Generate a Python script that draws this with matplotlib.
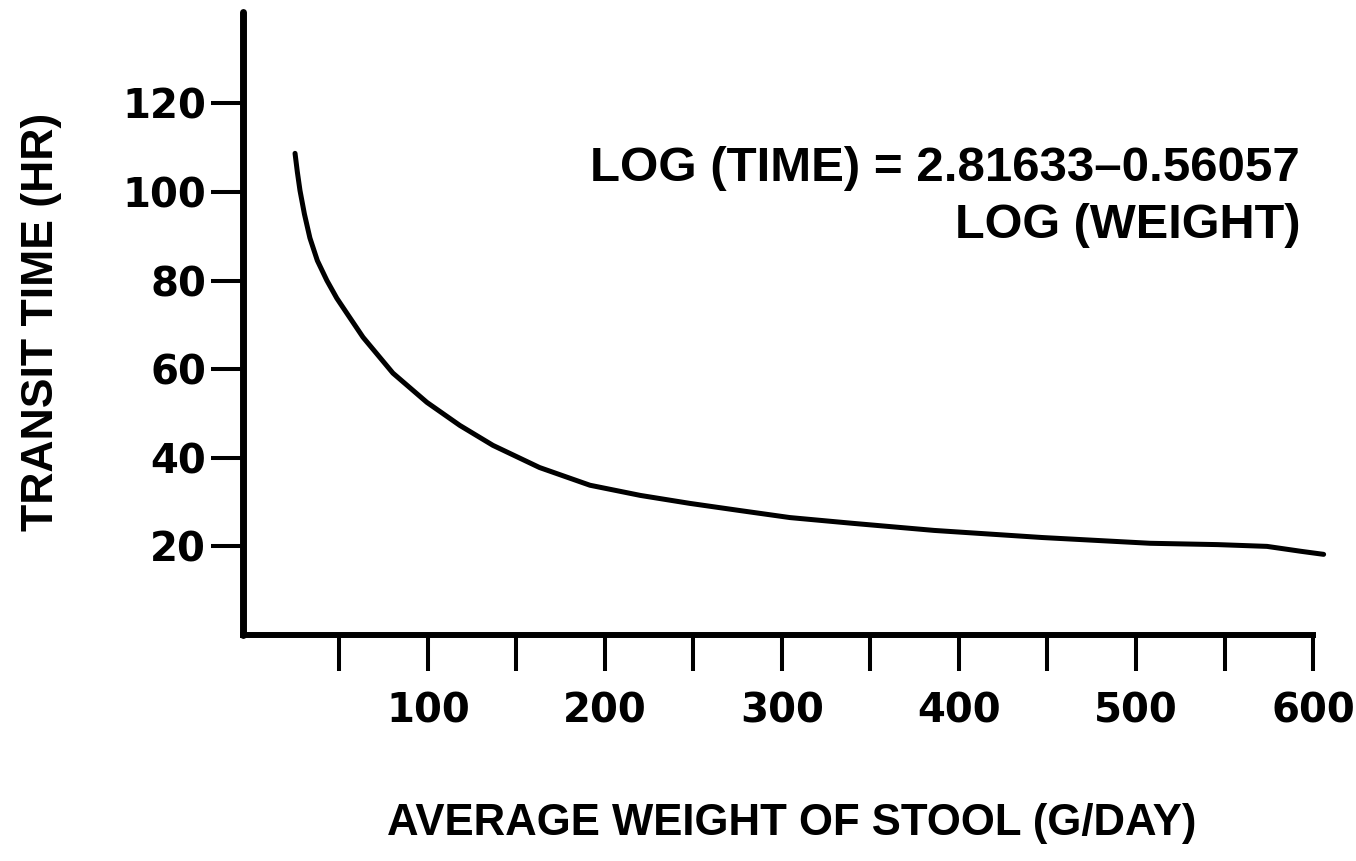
import matplotlib
matplotlib.use("Agg")
import matplotlib.pyplot as plt
import numpy as np

# values
weight = [24.9, 26.2, 27.7, 30.2, 33.3, 37.5, 42.9, 48.5, 54.2, 63.3, 80.2, 99.4, 118,
          136.7, 163, 191.5, 220, 248, 276, 304.5, 340, 386, 447, 508, 546, 574, 593, 606]
transit = [108.7, 104.5, 100.3, 95.0, 89.6, 84.5, 80.0, 76.0, 72.6, 67.2, 59.1, 52.5, 47.3,
           42.8, 37.8, 33.8, 31.5, 29.7, 28.1, 26.5, 25.2, 23.6, 22.0, 20.7, 20.4, 20.0, 18.9, 18.2]

x_major = [100, 200, 300, 400, 500, 600]
x_minor = [50, 150, 250, 350, 450, 550]
y_ticks = [20, 40, 60, 80, 100, 120]

eq_line1 = "LOG (TIME) = 2.81633\u20130.56057"
eq_line2 = "LOG (WEIGHT)"
x_label = "AVERAGE WEIGHT OF STOOL (G/DAY)"
y_label = "TRANSIT TIME (HR)"

fig = plt.figure(figsize=(13.56, 8.61), dpi=100)
ax = fig.add_axes([243 / 1356, 1 - 635 / 861, 1087 / 1356, 623 / 861])

ax.plot(weight, transit, color="black", lw=3.6, solid_capstyle="round",
        solid_joinstyle="round", clip_on=False)

ax.set_xlim(-4.5, 609.6)
ax.set_ylim(0, 140.6)

for s in ["top", "right"]:
    ax.spines[s].set_visible(False)
ax.spines["left"].set_linewidth(5)
ax.spines["bottom"].set_linewidth(4.3)
ax.spines["bottom"].set_bounds(-4.5, 600)
ax.spines["left"].set_capstyle("round")

ax.set_xticks(x_major)
ax.set_xticks(x_minor, minor=True)
ax.set_xticklabels([str(v) for v in x_major])
ax.set_yticks(y_ticks)
ax.set_yticklabels([str(v) for v in y_ticks])

ax.tick_params(axis="x", which="both", direction="out", length=26, width=2.9, pad=15)
ax.tick_params(axis="y", direction="out", length=23, width=2.9, pad=3.5)
for lab in ax.get_xticklabels() + ax.get_yticklabels():
    lab.set_fontfamily("DejaVu Sans")
    lab.set_fontweight("bold")
    lab.set_fontsize(29)

txt = dict(family=["Liberation Sans", "DejaVu Sans"], weight="bold", color="black")
ax.text(592.7, 102.4, eq_line1, ha="right", va="baseline", fontsize=35.5, **txt)
ax.text(592.7, 89.5, eq_line2, ha="right", va="baseline", fontsize=35, **txt)

fig.text(792 / 1356, 1 - 835 / 861, x_label, ha="center", va="baseline", fontsize=31.5, **txt)
fig.text(42 / 1356, 1 - 322 / 861, y_label, ha="center", va="center", rotation=90,
         fontsize=32, **txt)

fig.savefig("out.png", dpi=100)
